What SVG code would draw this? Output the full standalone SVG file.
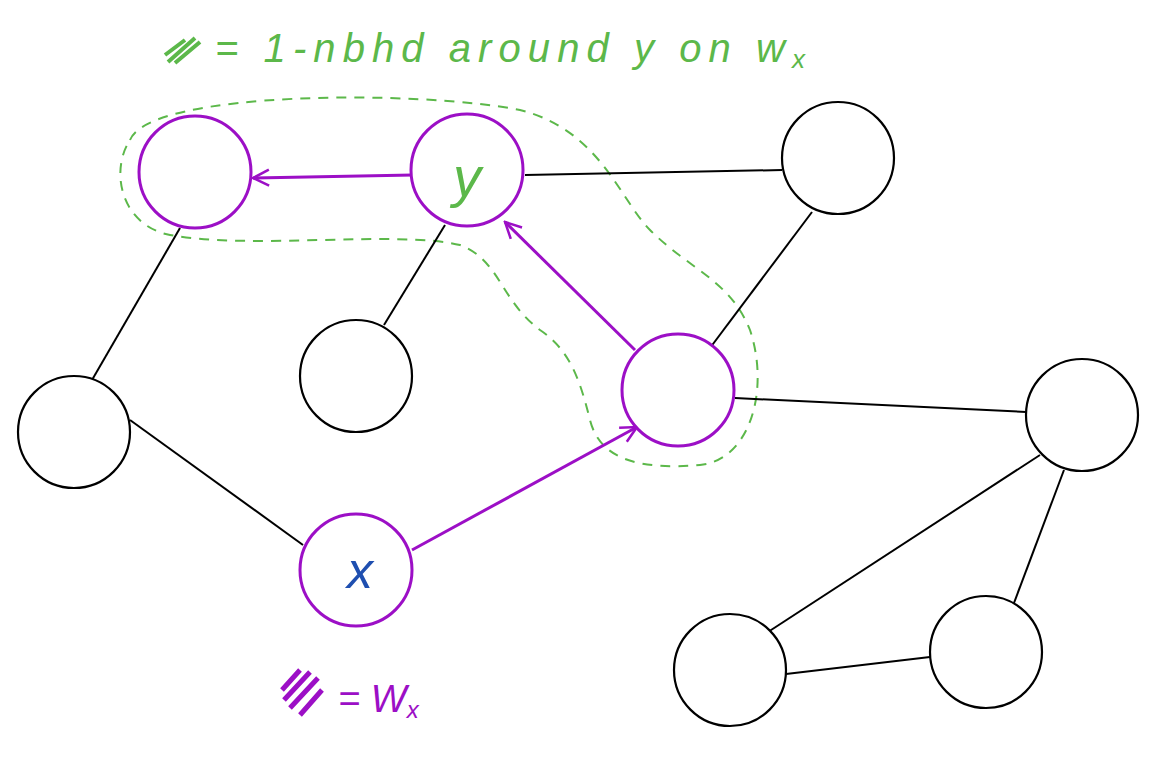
<svg xmlns="http://www.w3.org/2000/svg" width="1176" height="773" viewBox="0 0 1176 773">
<style>
.n{fill:#fff;stroke:#000;stroke-width:2.2}
.p{fill:#fff;stroke:#9c0fc6;stroke-width:3}
.e{stroke:#000;stroke-width:2;fill:none}
.a{stroke:#9c0fc6;stroke-width:3;fill:none}
.g{font-family:"Liberation Sans",sans-serif;font-style:italic;fill:#5cb84a}
</style>
<defs><marker id="ah" viewBox="0 0 20 20" refX="18" refY="10" markerWidth="20" markerHeight="20" markerUnits="userSpaceOnUse" orient="auto"><path d="M2 2 L18 10 L2 18" fill="none" stroke="#9c0fc6" stroke-width="2.5"/></marker></defs>
<rect width="1176" height="773" fill="#fff"/>
<path d="M130 140 C150 90 420 90 520 110 C600 130 620 200 650 230 C690 270 730 280 750 330 C770 390 750 460 700 465 C640 470 600 460 590 420 C580 380 570 350 540 330 C500 300 500 260 460 245 C400 230 250 250 170 235 C120 225 110 170 130 140Z" fill="none" stroke="#5cb84a" stroke-width="2" stroke-dasharray="10 8"/>
<g id="connectors">
<path class="e" d="M525 175 L782 170"/><path class="e" d="M180 228 L92 380"/><path class="e" d="M445 225 L384 325"/><path class="e" d="M130 420 L303 545"/><path class="e" d="M812 212 L710 348"/><path class="e" d="M735 398 L1026 412"/><path class="e" d="M1040 455 L768 632"/><path class="e" d="M1064 470 L1014 603"/><path class="e" d="M786 674 L930 657"/>
<path class="a" d="M413 175 L253 178" marker-end="url(#ah)"/><path class="a" d="M635 350 L505 222" marker-end="url(#ah)"/><path class="a" d="M412 550 L637 427" marker-end="url(#ah)"/>
</g>
<g id="nA"><circle class="p" cx="195" cy="172" r="56"/></g>
<g id="nY"><circle class="p" cx="467" cy="170" r="56"/><text x="467" y="196" text-anchor="middle" font-size="56" class="g">y</text></g>
<g id="nB"><circle class="n" cx="838" cy="158" r="56"/></g>
<g id="nC"><circle class="n" cx="356" cy="376" r="56"/></g>
<g id="nD"><circle class="n" cx="74" cy="432" r="56"/></g>
<g id="nE"><circle class="p" cx="678" cy="390" r="56"/></g>
<g id="nF"><circle class="n" cx="1082" cy="415" r="56"/></g>
<g id="nX"><circle class="p" cx="356" cy="570" r="56"/><text x="360" y="588" text-anchor="middle" font-size="52" font-family="Liberation Sans,sans-serif" font-style="italic" fill="#1f4fb0">x</text></g>
<g id="nG"><circle class="n" cx="730" cy="670" r="56"/></g>
<g id="nH"><circle class="n" cx="986" cy="652" r="56"/></g>
<path d="M165 55 L185 40 M168 62 L195 38 M175 63 L200 42" stroke="#5cb84a" stroke-width="4" fill="none"/>
<text x="215" y="62" font-size="40" class="g" textLength="590" lengthAdjust="spacing">= 1-nbhd around y on w<tspan font-size="26" dy="6">x</tspan></text>
<path d="M282 690 L300 670 M284 700 L310 672 M290 708 L318 678 M300 715 L322 690" stroke="#9c0fc6" stroke-width="5" fill="none"/>
<text x="338" y="712" font-size="38" font-family="Liberation Sans,sans-serif" font-style="italic" fill="#9c0fc6">= W<tspan font-size="24" dy="6">x</tspan></text>
</svg>
